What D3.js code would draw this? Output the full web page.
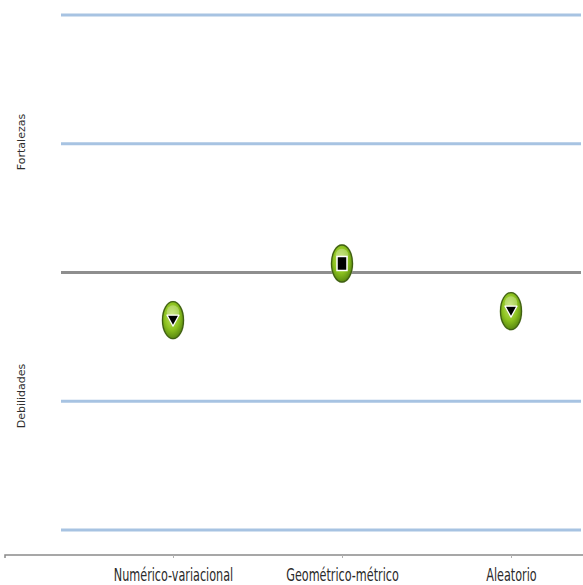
<!DOCTYPE html>
<html>
<head>
<meta charset="utf-8">
<script src="https://cdn.jsdelivr.net/npm/d3@7"></script>
<style>
  html, body { margin: 0; padding: 0; background: #fff; }
  svg { display: block; }
</style>
</head>
<body>
<svg id="chart" width="583" height="585"></svg>
<script>
// Areas evaluated and their balance (positive = strength, negative = weakness)
const categories = ["Numérico-variacional", "Geométrico-métrico", "Aleatorio"];
const values = [-0.37, 0.07, -0.30];
const markerKinds = ["down", "flat", "down"];
const gridValues = [-2, -1, 1, 2];
const sideLabels = ["Fortalezas", "Debilidades"];

const svg = d3.select("#chart");

const x = d3.scalePoint().domain(categories).range([173, 511]);
const y = d3.scaleLinear().domain([-2, 2]).range([530, 15]);

const defs = svg.append("defs");
const soft = defs.append("filter").attr("id", "soft")
  .attr("filterUnits", "userSpaceOnUse")
  .attr("x", 0).attr("y", 0).attr("width", 583).attr("height", 585);
soft.append("feGaussianBlur").attr("stdDeviation", 0.6);

const grad = defs.append("radialGradient").attr("id", "greenBall")
  .attr("cx", "45%").attr("cy", "40%").attr("r", "65%");
grad.append("stop").attr("offset", "0%").attr("stop-color", "#c4e36a");
grad.append("stop").attr("offset", "55%").attr("stop-color", "#8cc21f");
grad.append("stop").attr("offset", "100%").attr("stop-color", "#4f7d0c");

// Horizontal reference lines
svg.append("g").attr("filter", "url(#soft)")
  .selectAll("line").data(gridValues).join("line")
  .attr("x1", 61).attr("x2", 581)
  .attr("y1", d => y(d)).attr("y2", d => y(d))
  .attr("stroke", "#a7c3e2").attr("stroke-width", 3);

// Zero line
svg.append("g").attr("filter", "url(#soft)")
  .append("line")
  .attr("x1", 61).attr("x2", 581)
  .attr("y1", y(0)).attr("y2", y(0))
  .attr("stroke", "#8e8e8e").attr("stroke-width", 3);

// Category axis
const axisY = 555;
const axis = svg.append("g").attr("transform", `translate(0,${axisY})`)
  .call(d3.axisBottom(x).tickSize(3).tickSizeOuter(0).tickPadding(8));
axis.select(".domain").attr("d", `M5,3V0H583`).attr("stroke", "#8a8a8a").attr("stroke-width", 1.5);
axis.selectAll(".tick line").attr("stroke", "#b0b0b0");
axis.selectAll(".tick text")
  .attr("fill", "#2a2a2a")
  .style("font-family", "'DejaVu Sans', sans-serif")
  .style("font-size", "17px")
  .attr("y", 0)
  .attr("dy", 0)
  .attr("transform", "translate(0,26) scale(0.66,1)");

// Side labels
const sideY = [142, 396];
svg.append("g").selectAll("text").data(sideLabels).join("text")
  .attr("transform", (d, i) => `translate(25,${sideY[i]}) rotate(-90)`)
  .attr("text-anchor", "middle")
  .attr("fill", "#2e2e2e")
  .style("font-family", "'DejaVu Sans', sans-serif")
  .style("font-size", "11px")
  .text(d => d);

// Markers
const rx = 10.5, ry = 18.5;
const pts = svg.append("g").selectAll("g").data(categories).join("g")
  .attr("transform", (d, i) => `translate(${x(d)},${y(values[i])})`);

pts.append("ellipse")
  .attr("rx", rx + 1).attr("ry", ry + 1)
  .attr("fill", "#c8d7b0").attr("opacity", 0.6);
pts.append("ellipse")
  .attr("rx", rx).attr("ry", ry)
  .attr("fill", "url(#greenBall)")
  .attr("stroke", "#3f5f12").attr("stroke-width", 1.3);
pts.append("ellipse")
  .attr("cy", -ry * 0.45).attr("rx", rx * 0.6).attr("ry", ry * 0.35)
  .attr("fill", "#ffffff").attr("opacity", 0.25);

pts.filter((d, i) => markerKinds[i] === "down").append("path")
  .attr("d", "M-6,-5 L6,-5 L0,6 Z")
  .attr("fill", "#000").attr("stroke", "#fff").attr("stroke-width", 1.2)
  .attr("stroke-linejoin", "round");

pts.filter((d, i) => markerKinds[i] === "flat").append("rect")
  .attr("x", -5).attr("y", -7).attr("width", 10).attr("height", 14)
  .attr("fill", "#000").attr("stroke", "#fff").attr("stroke-width", 1.5);
</script>
</body>
</html>
